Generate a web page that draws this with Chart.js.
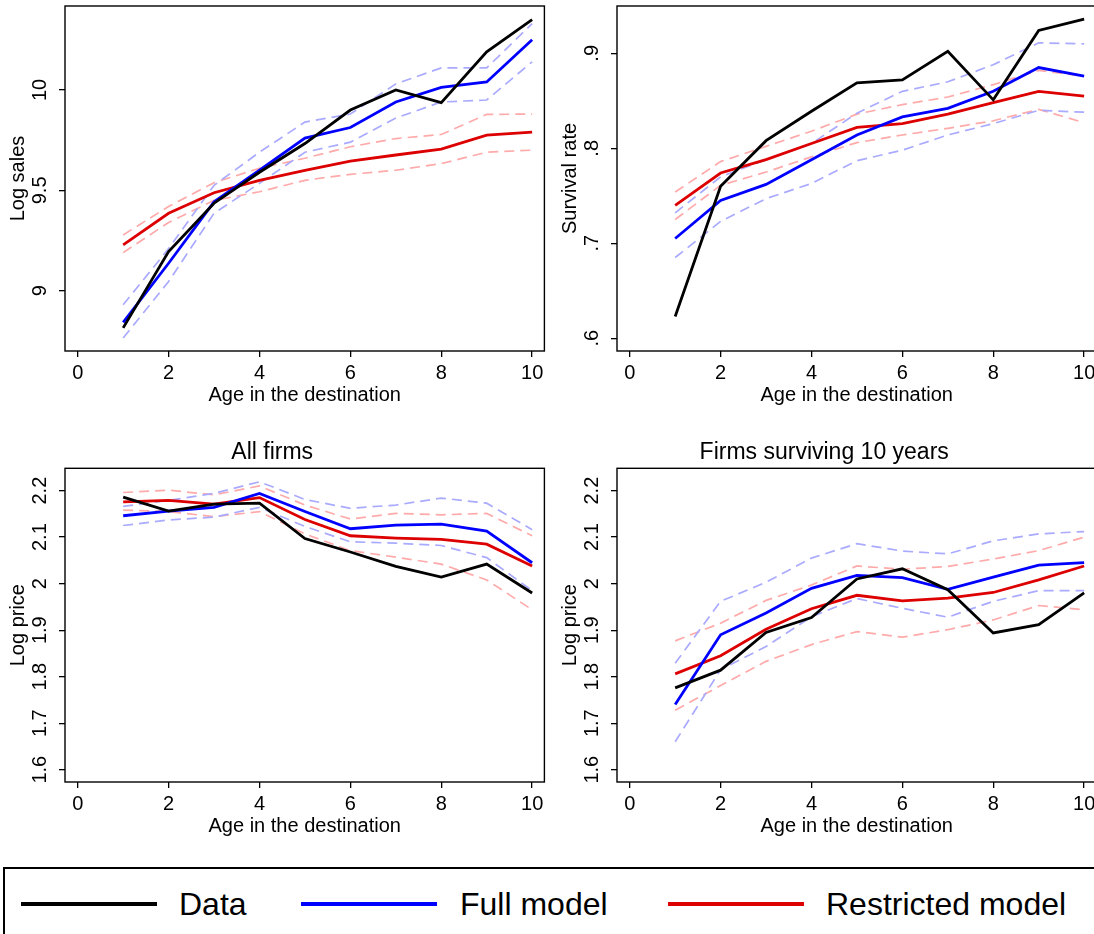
<!DOCTYPE html>
<html>
<head>
<meta charset="utf-8">
<script src="https://cdn.jsdelivr.net/npm/chart.js@4.4.1/dist/chart.umd.min.js"></script>
<style>
  html, body { margin: 0; padding: 0; background: #fff; overflow: hidden; width: 1094px; height: 934px; }
  body { position: relative; font-family: 'Liberation Sans', Arial, Helvetica, sans-serif; }
  canvas { position: absolute; }
  #legend { position: absolute; left: 3px; top: 867px; width: 1200px; height: 120px; border: 2px solid #000; }
  .key { position: absolute; height: 4px; top: 33px; }
  .lab { position: absolute; top: 19px; font-size: 32px; line-height: 32px; color: #000; white-space: nowrap; }
</style>
</head>
<body>
<canvas id="pSales" width="548" height="410" style="left:0;top:0"></canvas>
<canvas id="pSurv" width="548" height="410" style="left:552px;top:0"></canvas>
<canvas id="pPriceAll" width="548" height="417" style="left:0;top:424px"></canvas>
<canvas id="pPriceSurv" width="548" height="417" style="left:552px;top:424px"></canvas>

<div id="legend">
  <div class="key" style="left:16px;width:136px;background:#000"></div>
  <div class="lab" style="left:174px">Data</div>
  <div class="key" style="left:296px;width:136px;background:#0000ff"></div>
  <div class="lab" style="left:455px">Full model</div>
  <div class="key" style="left:663px;width:136px;background:#dd0000"></div>
  <div class="lab" style="left:821px">Restricted model</div>
</div>

<script>
const ages = [1, 2, 3, 4, 5, 6, 7, 8, 9, 10];
const xTicks = [0, 2, 4, 6, 8, 10];

// Log sales
const salesData      = [8.815, 9.195, 9.436, 9.59, 9.733, 9.90, 10.0, 9.937, 10.19, 10.35];
const salesFull      = [8.843, 9.137, 9.443, 9.60, 9.76, 9.813, 9.94, 10.013, 10.04, 10.25];
const salesFullHi    = [8.93, 9.21, 9.525, 9.69, 9.84, 9.88, 10.03, 10.11, 10.11, 10.33];
const salesFullLo    = [8.765, 9.046, 9.386, 9.535, 9.69, 9.74, 9.86, 9.94, 9.95, 10.14];
const salesRestr     = [9.228, 9.386, 9.488, 9.55, 9.60, 9.646, 9.676, 9.705, 9.775, 9.79];
const salesRestrHi   = [9.278, 9.42, 9.538, 9.61, 9.66, 9.717, 9.758, 9.778, 9.878, 9.88];
const salesRestrLo   = [9.19, 9.34, 9.45, 9.493, 9.55, 9.58, 9.60, 9.633, 9.69, 9.70];
const salesTicks     = [9, 9.5, 10];
const salesLabels    = ['9', '9.5', '10'];

// Survival rate
const survData       = [0.623, 0.760, 0.808, 0.839, 0.869, 0.872, 0.902, 0.851, 0.924, 0.936];
const survFull       = [0.705, 0.745, 0.762, 0.788, 0.814, 0.833, 0.842, 0.860, 0.885, 0.876];
const survFullHi     = [0.732, 0.770, 0.788, 0.805, 0.837, 0.860, 0.870, 0.888, 0.911, 0.910];
const survFullLo     = [0.685, 0.723, 0.747, 0.763, 0.787, 0.798, 0.814, 0.826, 0.840, 0.838];
const survRestr      = [0.740, 0.774, 0.788, 0.805, 0.822, 0.826, 0.836, 0.848, 0.860, 0.855];
const survRestrHi    = [0.754, 0.786, 0.802, 0.818, 0.836, 0.846, 0.854, 0.867, 0.882, 0.876];
const survRestrLo    = [0.725, 0.761, 0.775, 0.791, 0.806, 0.814, 0.821, 0.829, 0.841, 0.827];
const survTicks      = [0.6, 0.7, 0.8, 0.9];
const survLabels     = ['.6', '.7', '.8', '.9'];

// Log price, all firms
const priceAllData    = [2.186, 2.156, 2.171, 2.173, 2.097, 2.068, 2.037, 2.014, 2.042, 1.980];
const priceAllFull    = [2.146, 2.156, 2.164, 2.194, 2.155, 2.118, 2.126, 2.128, 2.113, 2.045];
const priceAllFullHi  = [2.166, 2.179, 2.194, 2.219, 2.181, 2.162, 2.169, 2.184, 2.173, 2.116];
const priceAllFullLo  = [2.125, 2.137, 2.143, 2.164, 2.123, 2.090, 2.087, 2.082, 2.056, 1.985];
const priceAllRestr   = [2.176, 2.179, 2.171, 2.185, 2.138, 2.103, 2.098, 2.095, 2.085, 2.038];
const priceAllRestrHi = [2.196, 2.201, 2.191, 2.210, 2.169, 2.139, 2.151, 2.148, 2.151, 2.103];
const priceAllRestrLo = [2.158, 2.155, 2.144, 2.155, 2.107, 2.071, 2.057, 2.042, 2.008, 1.944];

// Log price, firms surviving 10 years
const priceSurvData    = [1.776, 1.814, 1.895, 1.927, 2.010, 2.032, 1.987, 1.894, 1.912, 1.980];
const priceSurvFull    = [1.740, 1.890, 1.937, 1.990, 2.018, 2.013, 1.988, 2.014, 2.040, 2.045];
const priceSurvFullHi  = [1.829, 1.962, 2.003, 2.055, 2.086, 2.070, 2.064, 2.092, 2.107, 2.112];
const priceSurvFullLo  = [1.660, 1.815, 1.865, 1.929, 1.968, 1.947, 1.928, 1.962, 1.985, 1.985];
const priceSurvRestr   = [1.806, 1.845, 1.902, 1.946, 1.975, 1.963, 1.969, 1.981, 2.008, 2.038];
const priceSurvRestrHi = [1.877, 1.915, 1.964, 1.997, 2.038, 2.031, 2.037, 2.053, 2.071, 2.100];
const priceSurvRestrLo = [1.728, 1.781, 1.833, 1.869, 1.897, 1.885, 1.901, 1.922, 1.953, 1.944];

const priceTicks  = [1.6, 1.7, 1.8, 1.9, 2.0, 2.1, 2.2];
const priceLabels = ['1.6', '1.7', '1.8', '1.9', '2', '2.1', '2.2'];

const FONT = "'Liberation Sans', Arial, Helvetica, sans-serif";

// full box around the plot + vertical y tick labels (Stata style)
const framePlugin = {
  id: 'frame',
  afterDraw(chart, args, opts) {
    const { ctx, chartArea: a } = chart;
    const yScale = chart.scales.y;
    ctx.save();
    ctx.strokeStyle = '#000';
    ctx.lineWidth = 1.4;
    ctx.strokeRect(a.left, a.top, a.right - a.left, a.bottom - a.top);
    ctx.fillStyle = '#000';
    ctx.font = `20px ${FONT}`;
    ctx.textAlign = 'center';
    ctx.textBaseline = 'middle';
    opts.values.forEach((v, i) => {
      const y = yScale.getPixelForValue(v);
      ctx.save();
      ctx.translate(a.left - 24.5, y);
      ctx.rotate(-Math.PI / 2);
      ctx.fillText(opts.labels[i], 0, 0);
      ctx.restore();
    });
    ctx.restore();
  }
};

const pts = vals => ages.map((a, i) => ({ x: a, y: vals[i] }));
const solid = (vals, color) => ({ data: pts(vals), borderColor: color, borderWidth: 2.8, pointRadius: 0, tension: 0, fill: false });
const dashed = (vals, color) => ({ data: pts(vals), borderColor: color, borderWidth: 1.7, borderDash: [10, 6], pointRadius: 0, tension: 0, fill: false });

const makePanel = (id, cfg) => {
  const tickGrid = { display: true, drawOnChartArea: false, drawTicks: true, tickLength: 6, color: '#000', lineWidth: 1.3 };
  return new Chart(document.getElementById(id), {
    type: 'line',
    data: {
      datasets: [
        solid(cfg.data, '#000000'),
        solid(cfg.full, '#0000ff'),
        solid(cfg.restr, '#dd0000'),
        dashed(cfg.fullHi, '#aaaaff'),
        dashed(cfg.fullLo, '#aaaaff'),
        dashed(cfg.restrHi, '#ffaaaa'),
        dashed(cfg.restrLo, '#ffaaaa')
      ]
    },
    options: {
      responsive: false,
      animation: false,
      events: [],
      layout: { padding: { top: cfg.title ? 0 : 6, right: 3.6, left: 0, bottom: 0 } },
      plugins: {
        legend: { display: false },
        tooltip: { enabled: false },
        title: {
          display: !!cfg.title,
          text: cfg.title || '',
          color: '#000',
          font: { family: FONT, size: 23, weight: 'normal' },
          padding: { top: 14.9, bottom: 1.8 }
        },
        frame: { values: cfg.yTicks, labels: cfg.yLabels }
      },
      scales: {
        x: {
          type: 'linear',
          min: -0.28,
          max: 10.27,
          afterBuildTicks: s => { s.ticks = xTicks.map(v => ({ value: v })); },
          afterFit: s => { s.height = 59; },
          grid: tickGrid,
          border: { display: false },
          ticks: { color: '#000', font: { family: FONT, size: 20 }, padding: 4, maxRotation: 0, autoSkip: false, callback: v => String(v) },
          title: { display: true, text: 'Age in the destination', color: '#000', font: { family: FONT, size: 20 }, padding: { top: 0, bottom: 2.3 } }
        },
        y: {
          type: 'linear',
          min: cfg.yMin,
          max: cfg.yMax,
          afterBuildTicks: s => { s.ticks = cfg.yTicks.map(v => ({ value: v })); },
          afterFit: s => { s.width = 65; },
          grid: tickGrid,
          border: { display: false },
          ticks: { display: false },
          title: { display: true, text: cfg.yTitle, color: '#000', font: { family: FONT, size: 20 }, padding: { top: 6.5, bottom: 0 } }
        }
      }
    },
    plugins: [framePlugin]
  });
};

makePanel('pSales', {
  data: salesData, full: salesFull, fullHi: salesFullHi, fullLo: salesFullLo,
  restr: salesRestr, restrHi: salesRestrHi, restrLo: salesRestrLo,
  yMin: 8.70, yMax: 10.418, yTicks: salesTicks, yLabels: salesLabels, yTitle: 'Log sales'
});

makePanel('pSurv', {
  data: survData, full: survFull, fullHi: survFullHi, fullLo: survFullLo,
  restr: survRestr, restrHi: survRestrHi, restrLo: survRestrLo,
  yMin: 0.5866, yMax: 0.9498, yTicks: survTicks, yLabels: survLabels, yTitle: 'Survival rate'
});

makePanel('pPriceAll', {
  data: priceAllData, full: priceAllFull, fullHi: priceAllFullHi, fullLo: priceAllFullLo,
  restr: priceAllRestr, restrHi: priceAllRestrHi, restrLo: priceAllRestrLo,
  yMin: 1.5736, yMax: 2.248, yTicks: priceTicks, yLabels: priceLabels, yTitle: 'Log price',
  title: 'All firms'
});

makePanel('pPriceSurv', {
  data: priceSurvData, full: priceSurvFull, fullHi: priceSurvFullHi, fullLo: priceSurvFullLo,
  restr: priceSurvRestr, restrHi: priceSurvRestrHi, restrLo: priceSurvRestrLo,
  yMin: 1.5736, yMax: 2.248, yTicks: priceTicks, yLabels: priceLabels, yTitle: 'Log price',
  title: 'Firms surviving 10 years'
});
</script>
</body>
</html>
